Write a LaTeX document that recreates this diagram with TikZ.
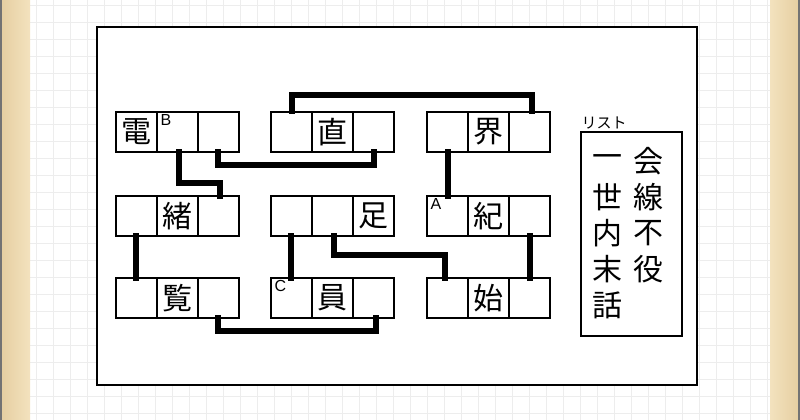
\documentclass[tikz,border=0pt]{standalone}
\usepackage{fontspec}
\newfontfamily\jp{Noto Sans CJK JP}
\setsansfont{Liberation Sans}
\definecolor{tanA}{HTML}{E6CFA2}
\definecolor{tanB}{HTML}{F3E2BE}
\begin{document}
\begin{tikzpicture}[x=1pt,y=-1pt,
  cell/.style={draw=black,line width=1.2pt,fill=white,minimum width=41pt,minimum height=40pt,inner sep=0pt},
  kan/.style={font=\jp\fontsize{30}{30}\selectfont,inner sep=0pt},
  tag/.style={font=\sffamily\fontsize{16}{16}\selectfont,anchor=north west,inner sep=0pt,xshift=4pt,yshift=-3pt},
  wire/.style={line width=6pt,line cap=rect}]
\useasboundingbox (0,0) rectangle (800,420);
\fill[white] (0,0) rectangle (800,420);
\foreach \x in {36,53,...,770} \draw[black!7,line width=0.7pt] (\x,0) -- (\x,420);
\foreach \y in {5,22,...,420} \draw[black!7,line width=0.7pt] (30,\y) -- (770,\y);
\fill[left color=tanA,right color=tanB] (2,0) rectangle (30,420);
\fill[left color=tanB,right color=tanA] (770,0) rectangle (798,420);
\fill[black!55] (0,0) rectangle (2,420);
\fill[black!55] (798,0) rectangle (800,420);
\node[draw,line width=1.6pt,fill=white,minimum width=600pt,minimum height=358pt,inner sep=0pt] (frame) at (397,206) {};
\foreach \g/\gx in {a/116,b/271,c/427}
  \foreach \r/\ry in {1/112,2/196,3/278}
    \foreach \c in {1,2,3}
      \node[cell] (\g\r\c) at ({\gx+41*(\c-1)+20.5},{\ry+20}) {};
\node[kan] at (a11) {電};
\node[tag] at (a12.north west) {B};
\node[kan] at (b12) {直};
\node[kan] at (c12) {界};
\node[kan] at (a22) {緒};
\node[kan] at (b23) {足};
\node[kan] at (c22) {紀};
\node[tag] at (c21.north west) {A};
\node[kan] at (a32) {覧};
\node[kan] at (b32) {員};
\node[tag] at (b31.north west) {C};
\node[kan] at (c32) {始};
\draw[wire] (b11.north) |- (532,95) coordinate (w1) -- (w1 |- c13.north);
\draw[wire] (179,152) -- (179,183) -- (220,183) -- (220,196);
\draw[wire] (218,152) -- (218,165) -- (374,165) -- (374,152);
\draw[wire] (448,152) -- (448,196);
\draw[wire] (530,236) -- (530,278);
\draw[wire] (136,236) -- (136,278);
\draw[wire] (291,236) -- (291,278);
\draw[wire] (334,236) -- (334,255) -- (445,255) -- (445,278);
\draw[wire] (218,318) -- (218,331) -- (376,331) -- (376,318);
\node[draw,line width=1.2pt,minimum width=101pt,minimum height=204pt,inner sep=0pt] (list) at (631.5,234) {};
\node[font=\jp\fontsize{15}{15}\selectfont,anchor=south west,inner sep=1pt,yshift=1pt] (lt) at (list.north west) {リスト};
\foreach \t/\y in {一/161,世/197,内/233,末/269,話/305}
  \node[kan] at (607,\y) {\t};
\foreach \t/\y in {会/161,線/197,不/233,役/269}
  \node[kan] at (648,\y) {\t};
\end{tikzpicture}
\end{document}
